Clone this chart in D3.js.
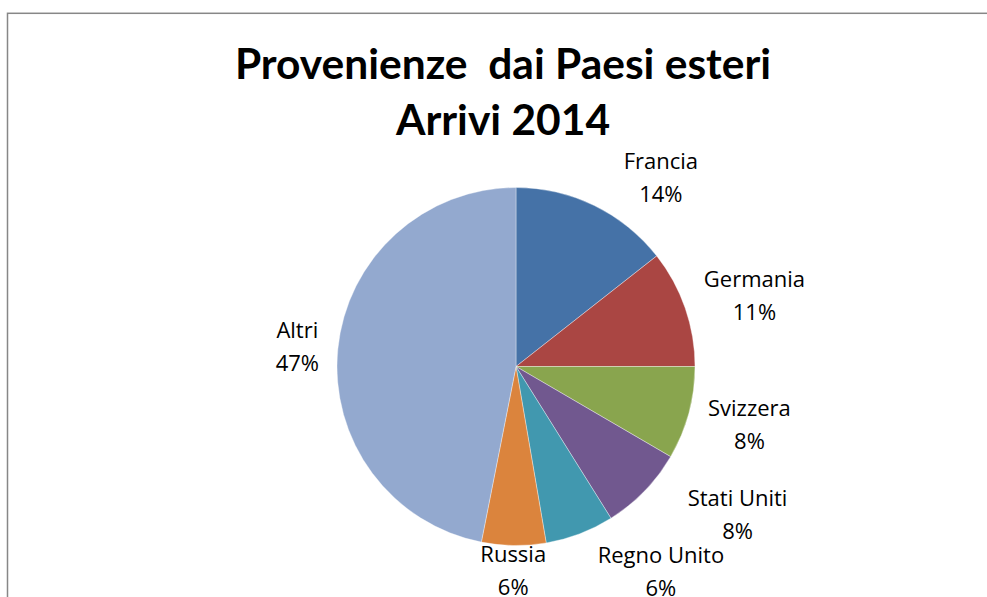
<!DOCTYPE html>
<html>
<head>
<meta charset="utf-8">
<script src="https://cdn.jsdelivr.net/npm/d3@7"></script>
<style>
  html, body { margin: 0; padding: 0; background: #fff; }
  svg { display: block; }
  text { white-space: pre; }
</style>
</head>
<body>
<svg id="chart" width="987" height="597"></svg>
<script>
// ---- data ----
const categories = ["Francia", "Germania", "Svizzera", "Stati Uniti", "Regno Unito", "Russia", "Altri"];
const values = [14.4, 10.6, 8.4, 7.7, 6.2, 5.8, 46.9];
const colors = ["#4572A7", "#AA4643", "#89A54E", "#71588F", "#4198AF", "#DB843D", "#93A9CF"];
const titleLines = ["Provenienze  dai Paesi esteri", "Arrivi 2014"];
// label layout nudges (px) applied after geometric placement, to mimic the original's best-fit layout
const labelNudgeX = [46, 12, 11, 50, 55, 0, -9];
const labelNudgeY = [3, -1, 3, 0, 6, -8, 1];

const W = 987, H = 597;
const svg = d3.select("#chart");

// frame
svg.append("rect")
  .attr("x", 7.5).attr("y", 13.3)
  .attr("width", W + 20).attr("height", H + 20)
  .attr("fill", "none")
  .attr("stroke", "#878787")
  .attr("stroke-width", 1.5);

// title
const title = svg.append("g");
titleLines.forEach((t, i) => {
  title.append("text")
    .attr("x", 503)
    .attr("y", 79 + i * 56)
    .attr("text-anchor", "middle")
    .attr("font-family", "Lato, 'Open Sans', sans-serif")
    .attr("font-weight", "bold")
    .attr("font-size", 42.5)
    .attr("fill", "#000")
    .text(t);
});

// pie
const cx = 516, cy = 366.5, r = 179;
const data = categories.map((c, i) => ({ name: c, value: values[i], color: colors[i], i }));
const total = d3.sum(values);
const pie = d3.pie().value(d => d.value).sort(null);
const arcs = pie(data);
const arc = d3.arc().innerRadius(0).outerRadius(r);

const g = svg.append("g").attr("transform", `translate(${cx},${cy})`);
g.selectAll("path.slice")
  .data(arcs)
  .join("path")
  .attr("class", "slice")
  .attr("d", arc)
  .attr("fill", d => d.data.color)
  .attr("stroke", "#ffffff")
  .attr("stroke-width", 0.6)
  .attr("stroke-opacity", 0.6);

// labels
const labelFont = "'Open Sans', 'Noto Sans', sans-serif";
const labelSize = 22;
const lineGap = 33;
const labelG = g.append("g");
arcs.forEach((a, k) => {
  const mid = (a.startAngle + a.endAngle) / 2;
  const s = Math.sin(mid), c = -Math.cos(mid);
  const grp = labelG.append("g");
  const t1 = grp.append("text")
    .attr("text-anchor", "middle")
    .attr("font-family", labelFont)
    .attr("font-size", labelSize)
    .attr("fill", "#000")
    .text(a.data.name);
  const pct = Math.round(a.data.value / total * 100) + "%";
  const t2 = grp.append("text")
    .attr("text-anchor", "middle")
    .attr("font-family", labelFont)
    .attr("font-size", labelSize)
    .attr("fill", "#000")
    .text(pct);
  const w = Math.max(t1.node().getComputedTextLength(), t2.node().getComputedTextLength());
  const h = 48;
  const d = r + 10;
  const lx = s * d + s * w / 2 + labelNudgeX[k];
  const ly = c * d + c * h / 2 + labelNudgeY[k];
  t1.attr("x", lx).attr("y", ly - 9);
  t2.attr("x", lx).attr("y", ly - 9 + lineGap);
});
</script>
</body>
</html>
